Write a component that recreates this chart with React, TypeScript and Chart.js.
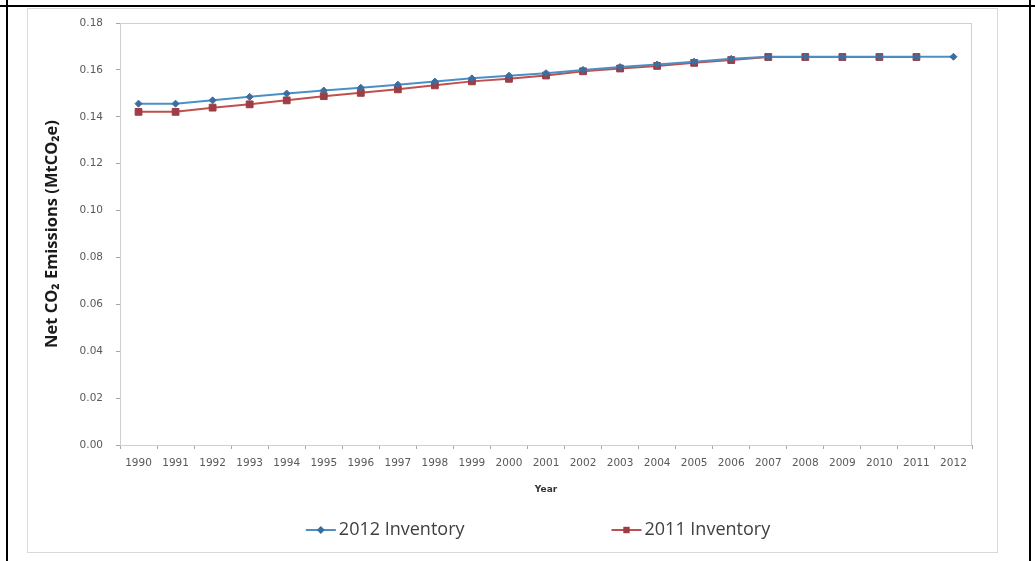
import React, { useEffect, useRef } from 'react';
import { Chart, registerables } from 'chart.js';

Chart.register(...registerables);

const years = ['1990', '1991', '1992', '1993', '1994', '1995', '1996', '1997', '1998', '1999', '2000', '2001', '2002', '2003', '2004', '2005', '2006', '2007', '2008', '2009', '2010', '2011', '2012'];

const inventory2012 = [0.1456, 0.1456, 0.1470, 0.1485, 0.1499, 0.1512, 0.1524, 0.1537, 0.1550, 0.1564, 0.1575, 0.1586, 0.1600, 0.1612, 0.1623, 0.1635, 0.1647, 0.1656, 0.1656, 0.1656, 0.1656, 0.1656, 0.1656];

const inventory2011 = [0.1421, 0.1421, 0.1439, 0.1453, 0.1470, 0.1488, 0.1502, 0.1517, 0.1534, 0.1551, 0.1562, 0.1576, 0.1594, 0.1606, 0.1617, 0.1630, 0.1642, 0.1655, 0.1655, 0.1655, 0.1655, 0.1655, null];

const seriesLabels = ['2012 Inventory', '2011 Inventory'];
const yMin = 0;
const yMax = 0.18;
const yStep = 0.02;
const yTitle = 'Net CO\u2082 Emissions (MtCO\u2082e)';
const xTitle = 'Year';

const BLUE_LINE = '#4A90C6';
const BLUE_MARK = '#3B6E9E';
const RED_LINE = '#C0504D';
const RED_MARK = '#9E3D45';

const plotBorder = {
  id: 'plotBorder',
  beforeDatasetsDraw(chart: any) {
    const { ctx, chartArea } = chart;
    ctx.save();
    ctx.strokeStyle = '#CFCFCF';
    ctx.lineWidth = 1;
    ctx.strokeRect(chartArea.left + 0.5, chartArea.top + 0.5, chartArea.right - chartArea.left - 1, chartArea.bottom - chartArea.top);
    ctx.restore();
  },
};

function drawMarker(ctx: CanvasRenderingContext2D, style: string, x: number, y: number, color: string) {
  ctx.fillStyle = color;
  ctx.beginPath();
  if (style === 'rectRot') {
    const r = 4;
    ctx.moveTo(x, y - r);
    ctx.lineTo(x + r, y);
    ctx.lineTo(x, y + r);
    ctx.lineTo(x - r, y);
    ctx.closePath();
  } else {
    const s = 3.2;
    ctx.rect(x - s, y - s, 2 * s, 2 * s);
  }
  ctx.fill();
}

const customLegend = {
  id: 'customLegend',
  afterDraw(chart: any) {
    const { ctx, chartArea } = chart;
    const datasets = chart.data.datasets;
    ctx.save();
    ctx.font = '18px "Open Sans"';
    ctx.textBaseline = 'middle';
    const lineW = 30;
    const gapText = 3;
    const gapItems = 147;
    const widths = datasets.map((ds: any) => lineW + gapText + ctx.measureText(ds.label).width);
    const total = widths.reduce((a: number, b: number) => a + b, 0) + gapItems * (datasets.length - 1);
    let x = (chartArea.left + chartArea.right) / 2 - total / 2 - 8;
    const y = 522;
    datasets.forEach((ds: any, i: number) => {
      ctx.strokeStyle = ds.borderColor;
      ctx.lineWidth = 2;
      ctx.beginPath();
      ctx.moveTo(x, y);
      ctx.lineTo(x + lineW, y);
      ctx.stroke();
      drawMarker(ctx, ds.pointStyle, x + lineW / 2, y, ds.pointBackgroundColor);
      ctx.fillStyle = '#404040';
      ctx.textAlign = 'left';
      ctx.fillText(ds.label, x + lineW + gapText, y);
      x += widths[i] + gapItems;
    });
    ctx.restore();
  },
};

function ChartBox() {
  const ref = useRef<HTMLCanvasElement | null>(null);
  useEffect(() => {
    if (!ref.current) return;
    const chart = new Chart(ref.current, {
      type: 'line',
      data: {
        labels: years,
        datasets: [
          {
            label: seriesLabels[0],
            data: inventory2012,
            borderColor: BLUE_LINE,
            backgroundColor: BLUE_MARK,
            pointBackgroundColor: BLUE_MARK,
            pointBorderColor: BLUE_MARK,
            pointStyle: 'rectRot',
            pointRadius: 3.5,
            pointBorderWidth: 1,
            borderWidth: 2,
            tension: 0,
          },
          {
            label: seriesLabels[1],
            data: inventory2011,
            borderColor: RED_LINE,
            backgroundColor: RED_MARK,
            pointBackgroundColor: RED_MARK,
            pointBorderColor: RED_MARK,
            pointStyle: 'rect',
            pointRadius: 4.8,
            pointBorderWidth: 1,
            borderWidth: 2,
            tension: 0,
          },
        ],
      },
      options: {
        animation: false,
        responsive: true,
        maintainAspectRatio: false,
        layout: { padding: { left: 12, right: 26, top: 15, bottom: 58 } },
        plugins: {
          legend: { display: false },
          tooltip: { enabled: false },
          title: { display: false },
        },
        scales: {
          x: {
            type: 'category',
            offset: true,
            grid: {
              offset: true,
              drawOnChartArea: false,
              drawTicks: true,
              tickLength: 4,
              color: '#A6A6A6',
            },
            border: { display: true, color: '#A6A6A6' },
            ticks: {
              autoSkip: false,
              maxRotation: 0,
              minRotation: 0,
              padding: 8,
              color: '#595959',
              font: { family: '"DejaVu Sans"', size: 10.5 },
            },
            title: {
              display: true,
              text: xTitle,
              color: '#333333',
              font: { family: '"DejaVu Sans"', size: 9, weight: 'bold' },
              padding: { top: 0, bottom: 0 },
            },
            afterFit(scale: any) {
              scale.height = 50;
            },
          },
          y: {
            min: yMin,
            max: yMax,
            grid: {
              drawOnChartArea: false,
              drawTicks: true,
              tickLength: 4,
              color: '#A6A6A6',
            },
            border: { display: true, color: '#A6A6A6' },
            ticks: {
              stepSize: yStep,
              padding: 13,
              color: '#595959',
              font: { family: '"DejaVu Sans"', size: 10.5 },
              callback: (v: any) => Number(v).toFixed(2),
            },
            title: {
              display: true,
              text: yTitle,
              color: '#1A1A1A',
              font: { family: '"Open Sans"', size: 16.5, weight: 'bold' },
              padding: { top: 3, bottom: 0 },
            },
            afterFit(scale: any) {
              scale.width = 81;
              scale.paddingTop = 6;
              scale.paddingBottom = 6;
            },
          },
        },
      },
      plugins: [plotBorder, customLegend],
    });
    return () => chart.destroy();
  }, []);
  return <canvas ref={ref} />;
}

export default function App() {
  return (
    <div style={{ position: 'absolute', left: 0, top: 0, width: 1035, height: 561, background: '#ffffff', overflow: 'hidden' }}>
      <div style={{ position: 'absolute', left: 0, top: 5, width: 1035, height: 2, background: '#000' }} />
      <div style={{ position: 'absolute', left: 6, top: 0, width: 2, height: 561, background: '#000' }} />
      <div style={{ position: 'absolute', left: 1029, top: 0, width: 2, height: 561, background: '#000' }} />
      <div
        style={{
          position: 'absolute',
          left: 27,
          top: 8,
          width: 971,
          height: 545,
          boxSizing: 'border-box',
          border: '1px solid #D9D9D9',
          background: '#fff',
        }}
      >
        <div style={{ position: 'absolute', left: -1, top: -1, width: 971, height: 545 }}>
          <ChartBox />
        </div>
      </div>
    </div>
  );
}
